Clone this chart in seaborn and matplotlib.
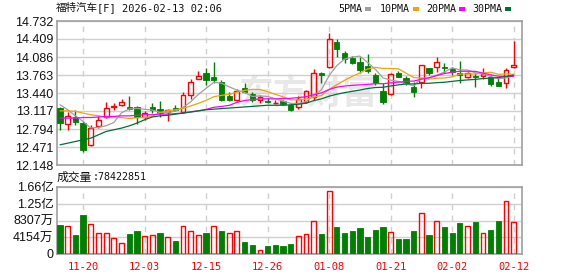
import numpy as np
import pandas as pd
import matplotlib
matplotlib.use("Agg")
import matplotlib.pyplot as plt
import seaborn as sns
from matplotlib.patches import Rectangle

# ---------------- data ----------------
dates = ["11-17", "11-18", "11-19", "11-20", "11-21", "11-24", "11-25", "11-26", "11-28", "12-01",
         "12-02", "12-03", "12-04", "12-05", "12-08", "12-09", "12-10", "12-11", "12-12", "12-15",
         "12-16", "12-17", "12-18", "12-19", "12-22", "12-23", "12-24", "12-26", "12-29", "12-30",
         "12-31", "01-02", "01-05", "01-06", "01-07", "01-08", "01-09", "01-12", "01-13", "01-14",
         "01-15", "01-16", "01-20", "01-21", "01-22", "01-23", "01-26", "01-27", "01-28", "01-29",
         "01-30", "02-02", "02-03", "02-04", "02-05", "02-06", "02-09", "02-10", "02-11", "02-12"]

opens = [13.170, 12.883, 13.009, 12.901, 12.513, 12.853, 13.009, 13.181, 13.224, 13.188,
         13.188, 13.009, 13.188, 13.152, 13.091, 13.170, 13.098, 13.408, 13.689, 13.796,
         13.730, 13.646, 13.395, 13.318, 13.528, 13.420, 13.318, 13.288, 13.252, 13.288,
         13.224, 13.188, 13.270, 13.377, 13.807, 13.903, 14.362, 14.154, 14.065, 13.998,
         13.927, 13.766, 13.467, 13.426, 13.807, 13.707, 13.556, 13.646, 13.886, 13.903,
         13.903, 13.868, 13.807, 13.735, 13.748, 13.748, 13.735, 13.646, 13.628, 13.903]
highs = [13.193, 13.091, 13.139, 12.942, 12.871, 13.019, 13.270, 13.259, 13.331, 13.390,
         13.199, 13.109, 13.259, 13.288, 13.152, 13.229, 13.456, 13.694, 13.837, 13.886,
         14.004, 13.676, 13.456, 13.515, 13.617, 13.456, 13.408, 13.349, 13.318, 13.318,
         13.259, 13.390, 13.497, 13.868, 13.825, 14.523, 14.405, 14.201, 14.106, 14.093,
         14.141, 13.796, 13.617, 13.807, 13.843, 13.748, 13.646, 13.945, 13.886, 14.082,
         13.975, 13.903, 14.022, 13.825, 13.807, 13.886, 13.766, 13.707, 13.886, 14.374]
lows = [12.781, 12.769, 12.871, 12.375, 12.495, 12.812, 12.991, 13.127, 13.199, 13.139,
        12.883, 12.960, 13.080, 13.009, 12.942, 13.109, 13.080, 13.336, 13.689, 13.587,
        13.617, 13.288, 13.288, 13.288, 13.438, 13.277, 13.259, 13.259, 13.241, 13.216,
        13.120, 13.152, 13.259, 13.306, 13.617, 13.890, 14.082, 13.975, 13.963, 13.807,
        13.807, 13.587, 13.247, 13.408, 13.725, 13.587, 13.367, 13.528, 13.766, 13.825,
        13.796, 13.766, 13.628, 13.707, 13.546, 13.689, 13.569, 13.569, 13.528, 13.886]
closes = [12.907, 13.019, 12.912, 12.411, 12.812, 12.960, 13.170, 13.199, 13.283, 13.157,
          13.014, 13.080, 13.139, 13.080, 13.139, 13.134, 13.408, 13.646, 13.753, 13.676,
          13.682, 13.318, 13.320, 13.467, 13.465, 13.318, 13.372, 13.270, 13.268, 13.241,
          13.127, 13.331, 13.467, 13.796, 13.766, 14.405, 14.226, 14.047, 13.986, 13.845,
          13.840, 13.617, 13.270, 13.784, 13.725, 13.617, 13.449, 13.945, 13.807, 13.993,
          13.886, 13.825, 13.766, 13.796, 13.735, 13.778, 13.605, 13.569, 13.855, 13.945]
# volume in units of 万 shares
volumes = [7131, 6881, 4629, 9633, 7381, 5129, 5129, 4045, 2627, 4879,
           5630, 4379, 4629, 5129, 4295, 3128, 7047, 5630, 4629, 5129,
           6881, 5630, 5129, 5797, 2877, 2127, 876, 1877, 2127, 1877,
           2377, 4379, 4879, 8298, 4962, 15638, 6630, 5129, 5630, 6380,
           4128, 5880, 6630, 5546, 3628, 3628, 5630, 10049, 4629, 8298,
           6630, 5129, 7631, 6881, 7881, 5296, 5880, 8131, 13135, 7842]

# moving-average values before each window is full
ma5_head = [13.23, 13.14, 13.03, 12.93]
ma10_head = [13.12, 13.12, 13.11, 13.08, 13.05, 13.03, 13.01, 13.01, 13.00]
ma20_head = [12.99, 12.99, 12.99, 13.00, 13.00, 13.01, 13.02, 13.02, 13.03, 13.03,
             13.04, 13.05, 13.05, 13.06, 13.06, 13.07, 13.08, 13.10, 13.12]
ma30_head = [12.51, 12.54, 12.57, 12.60, 12.63, 12.69, 12.75, 12.78, 12.81, 12.85,
             12.90, 12.96, 13.01, 13.03, 13.04, 13.06, 13.08, 13.10, 13.12, 13.14,
             13.15, 13.16, 13.17, 13.18, 13.19, 13.20, 13.21, 13.22, 13.22]

price_ticks = [12.148, 12.471, 12.794, 13.117, 13.440, 13.763, 14.086, 14.409, 14.732]
vol_ticks = [0, 4154, 8307, 12461, 16614]
vol_tick_labels = ["0", "4154万", "8307万", "1.25亿", "1.66亿"]
date_ticks = ["11-20", "12-03", "12-15", "12-26", "01-08", "01-21", "02-02", "02-12"]
ma_names = ["5PMA", "10PMA", "20PMA", "30PMA"]
title_cn = "福特汽车"
title_rest = "[F] 2026-02-13 02:06"
vol_label = "成交量"
last_volume = "78422851"

# ---------------- style ----------------
RED = "#ff0000"
GREEN = "#008000"
MA_COLORS = ["#a0a0a0", "#f0a30a", "#ff00ff", "#006f3c"]
GRID = "#d0d0d0"
FRAME = "#a0a0a0"

sns.set_theme(style="white")
plt.rcParams["font.family"] = ["Liberation Sans", "Noto Sans CJK SC"]
plt.rcParams["axes.unicode_minus"] = False

W, H = 578, 276
fig = plt.figure(figsize=(W / 100, H / 100), dpi=100)
fig.patch.set_facecolor("white")


def rect(l, t, r, b):
    return [l / W, 1 - b / H, (r - l) / W, (b - t) / H]


ax = fig.add_axes(rect(57, 21, 522, 165))
axv = fig.add_axes(rect(57, 187, 522, 254))

n = len(closes)
x = np.arange(n)
o = np.array(opens)
c = np.array(closes)
hi = np.array(highs)
lo = np.array(lows)
up = c >= o
top = np.maximum(o, c)
bot = np.minimum(o, c)

# moving averages
cs = pd.Series(c)
ma_lists = []
for head, per in zip([ma5_head, ma10_head, ma20_head, ma30_head], [5, 10, 20, 30]):
    roll = cs.rolling(per).mean().to_numpy()
    vals = np.array(list(head) + list(roll[len(head):]))
    ma_lists.append(vals)

# ---------------- price panel ----------------
ax.text(0.54, 0.50, "东方财富", transform=ax.transAxes, ha="center", va="center",
        fontsize=25, fontweight="bold", color="#e8e8e8", family=["Noto Sans CJK SC"], zorder=0)

# wicks
ax.vlines(x[~up], lo[~up], hi[~up], colors=GREEN, lw=1.0, zorder=3)
ax.vlines(x[up], top[up], hi[up], colors=RED, lw=1.0, zorder=3)
ax.vlines(x[up], lo[up], bot[up], colors=RED, lw=1.0, zorder=3)
# bodies
ax.bar(x[up], (top - bot)[up], bottom=bot[up], width=0.62, facecolor="none",
       edgecolor=RED, lw=1.0, zorder=4)
ax.bar(x[~up], (top - bot)[~up], bottom=bot[~up], width=0.68, facecolor=GREEN,
       edgecolor=GREEN, lw=0.6, zorder=4)

for vals, colr in zip(ma_lists, MA_COLORS):
    sns.lineplot(x=x, y=vals, color=colr, lw=0.9, ax=ax, zorder=5)

tick_pos = [dates.index(d) for d in date_ticks]

ax.set_xlim(-0.39, n + 0.08)
ax.set_ylim(price_ticks[0], price_ticks[-1])
ax.set_yticks(price_ticks)
ax.set_yticklabels([f"{v:.3f}" for v in price_ticks])
ax.set_xticks(tick_pos)
ax.set_xticklabels([])
ax.set_xlabel("")
ax.set_ylabel("")
ax.yaxis.grid(True, color=GRID, lw=1.0)
ax.xaxis.grid(True, color=GRID, lw=1.0, ls=(0, (4, 4)))
ax.set_axisbelow(True)
ax.tick_params(axis="both", length=0, pad=2.5, labelsize=9, colors="#111111")

# ---------------- volume panel ----------------
vol = np.array(volumes, dtype=float)
vol_up = np.r_[up[0], c[1:] > c[:-1]]
vdf = pd.DataFrame({"x": x, "vol": vol, "up": vol_up})
sns.barplot(data=vdf[~vdf.up], x="x", y="vol", native_scale=True, color=GREEN,
            saturation=1, width=0.68, errorbar=None, edgecolor=GREEN, linewidth=0.6,
            ax=axv, zorder=3)
sns.barplot(data=vdf[vdf.up], x="x", y="vol", native_scale=True, color=RED,
            saturation=1, width=0.62, errorbar=None, fill=False, linewidth=1.0,
            ax=axv, zorder=3)

axv.set_xlim(-0.39, n + 0.08)
axv.set_ylim(0, vol_ticks[-1])
axv.set_yticks(vol_ticks)
axv.set_yticklabels(vol_tick_labels)
axv.set_xticks(tick_pos)
axv.set_xticklabels(date_ticks, color=RED, family="DejaVu Sans Mono", fontsize=7.5)
axv.set_xlabel("")
axv.set_ylabel("")
axv.yaxis.grid(True, color=GRID, lw=1.0)
axv.xaxis.grid(True, color=GRID, lw=1.0, ls=(0, (4, 4)))
axv.set_axisbelow(True)
axv.tick_params(axis="y", length=0, pad=2.5, labelsize=9, colors="#111111")
axv.tick_params(axis="x", length=0, pad=5.5, colors=RED)

for a in (ax, axv):
    for s in a.spines.values():
        s.set_visible(True)
        s.set_color(FRAME)
        s.set_linewidth(1.2)

# ---------------- header texts ----------------
def ftext(px, py, s, **kw):
    fig.text(px / W, 1 - py / H, s, va="center", ha="left", **kw)


ftext(56, 8, title_cn, family=["Noto Sans CJK SC"], fontsize=7.6, color="#111111")
ftext(97, 8, title_rest, family=["DejaVu Sans Mono"], fontsize=7.5, color="#111111")

legend_x = [338, 380, 426, 472]
for lx, name, colr in zip(legend_x, ma_names, MA_COLORS):
    ftext(lx, 8.5, name, family=["DejaVu Sans Mono"], fontsize=7.2, color="#111111")
    mx = lx + 6.0 * len(name) + 3
    fig.patches.append(Rectangle((mx / W, 1 - 10.5 / H), 6 / W, 4 / H,
                                 transform=fig.transFigure, facecolor=colr,
                                 edgecolor="none"))

ftext(57, 177.5, vol_label, family=["Noto Sans CJK SC"], fontsize=8.5, color="#111111")
ftext(93, 177.5, ":" + last_volume, family=["DejaVu Sans Mono"], fontsize=7.2, color="#111111")

fig.savefig("out.png", dpi=100)
